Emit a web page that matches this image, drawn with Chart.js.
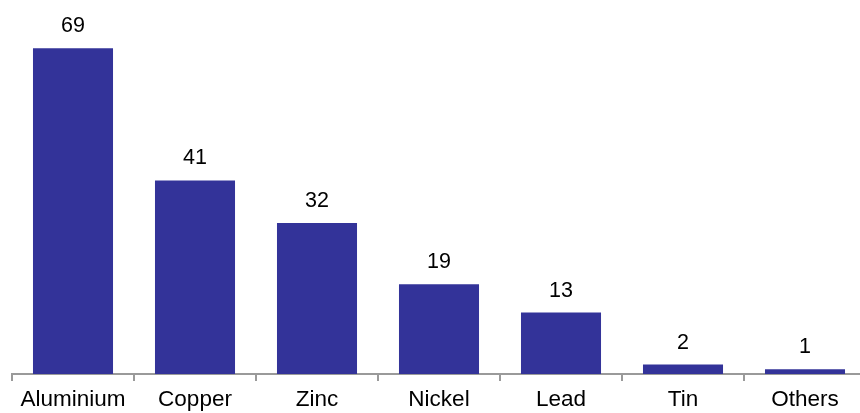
<!DOCTYPE html>
<html>
<head>
<meta charset="utf-8">
<script src="https://cdn.jsdelivr.net/npm/chart.js@4/dist/chart.umd.min.js"></script>
<style>
  html, body { margin: 0; padding: 0; background: #ffffff; overflow: hidden; width: 860px; height: 413px; }
  #wrap { width: 880px; height: 413px; }
</style>
</head>
<body>
<div id="wrap"><canvas id="c" width="880" height="413"></canvas></div>
<script>
const categories = ["Aluminium", "Copper", "Zinc", "Nickel", "Lead", "Tin", "Others"];
const values = [69, 41, 32, 19, 13, 2, 1];

const valueLabels = {
  id: 'valueLabels',
  afterDatasetsDraw(chart) {
    const ctx = chart.ctx;
    const meta = chart.getDatasetMeta(0);
    ctx.save();
    ctx.font = '21.5px "Liberation Sans", Arial, sans-serif';
    ctx.fillStyle = '#000000';
    ctx.textAlign = 'center';
    ctx.textBaseline = 'alphabetic';
    meta.data.forEach((bar, i) => {
      ctx.fillText(String(values[i]), bar.x, bar.y - 16);
    });
    ctx.restore();
  }
};

new Chart(document.getElementById('c'), {
  type: 'bar',
  data: {
    labels: categories,
    datasets: [{
      data: values,
      backgroundColor: '#333399',
      borderWidth: 0,
      barPercentage: 0.656,
      categoryPercentage: 1.0
    }]
  },
  options: {
    responsive: false,
    devicePixelRatio: 1,
    animation: false,
    layout: { padding: { left: 12, right: 14, top: 0, bottom: 0 } },
    plugins: { legend: { display: false }, tooltip: { enabled: false } },
    scales: {
      y: { display: false, min: 0, max: 79.2 },
      x: {
        afterFit(scale) { scale.height = 39; },
        border: { display: true, color: '#9a9a9a', width: 2 },
        grid: { display: true, drawOnChartArea: false, drawTicks: true, tickLength: 7, color: '#9a9a9a', lineWidth: 2, offset: true },
        ticks: {
          color: '#000000',
          font: { family: '"Liberation Sans", Arial, sans-serif', size: 22.5 },
          padding: 5,
          maxRotation: 0,
          autoSkip: false
        }
      }
    }
  },
  plugins: [valueLabels]
});
</script>
</body>
</html>
